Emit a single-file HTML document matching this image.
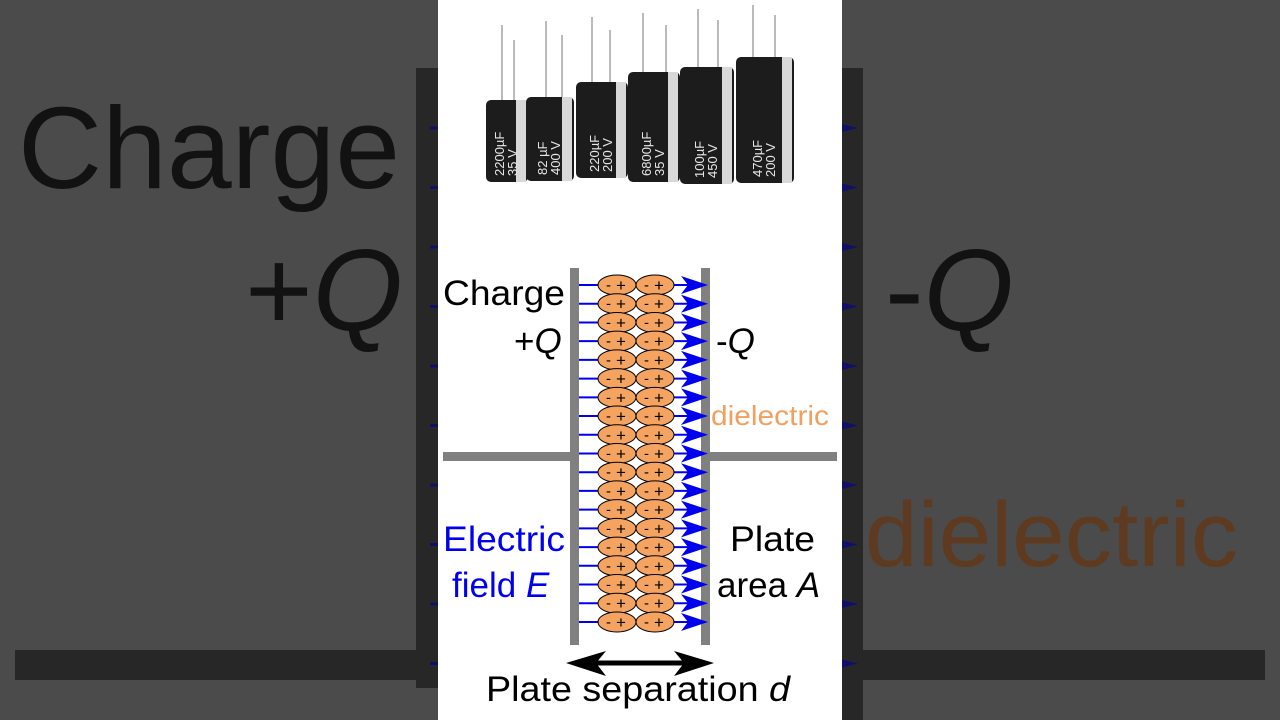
<!DOCTYPE html>
<html><head><meta charset="utf-8"><style>
html,body{margin:0;padding:0;width:1280px;height:720px;overflow:hidden;background:#4b4b4b}
svg{display:block}
text{font-family:"Liberation Sans",sans-serif}
</style></head><body>
<svg id="s" width="1280" height="720" viewBox="0 0 1280 720" xmlns="http://www.w3.org/2000/svg">
<rect width="1280" height="720" fill="#4b4b4b"/>
<text x="18" y="188" font-size="116" fill="#121212" textLength="382" lengthAdjust="spacingAndGlyphs">Charge</text>
<text x="245" y="330" font-size="116" fill="#121212">+<tspan font-style="italic">Q</tspan></text>
<rect x="416" y="68" width="24" height="620" fill="#272727"/>
<rect x="15" y="650" width="425" height="30" fill="#272727"/>
<rect x="840" y="68" width="23" height="652" fill="#272727"/>
<rect x="863" y="650" width="402" height="30" fill="#272727"/>
<text x="885" y="330" font-size="116" fill="#121212">-<tspan font-style="italic">Q</tspan></text>
<text x="865" y="566" font-size="92" fill="#5e3a20" textLength="373" lengthAdjust="spacingAndGlyphs">dielectric</text>
<g id="bgarrows" fill="#10106a"></g>
<rect x="438" y="0" width="404" height="720" fill="#fff"/>
<g id="caps"></g>
<rect x="443" y="452" width="130" height="9" fill="#808080"/>
<rect x="707" y="452" width="130" height="9" fill="#808080"/>
<rect x="570" y="268" width="9" height="377" fill="#808080"/>
<rect x="701" y="268" width="9" height="377" fill="#808080"/>
<g id="rows"></g>
<text x="443" y="305" font-size="35" fill="#000" textLength="122" lengthAdjust="spacingAndGlyphs">Charge</text>
<text x="514" y="353" font-size="35" fill="#000">+<tspan font-style="italic">Q</tspan></text>
<text x="716" y="353" font-size="35" fill="#000">-<tspan font-style="italic">Q</tspan></text>
<text x="711" y="425" font-size="28" fill="#f0a060" textLength="118" lengthAdjust="spacingAndGlyphs">dielectric</text>
<text x="443" y="551" font-size="35" fill="#0000ee" textLength="122" lengthAdjust="spacingAndGlyphs">Electric</text>
<text x="452" y="597" font-size="35" fill="#0000ee">field <tspan font-style="italic">E</tspan></text>
<text x="730" y="551" font-size="35" fill="#000" textLength="85" lengthAdjust="spacingAndGlyphs">Plate</text>
<text x="717" y="597" font-size="35" fill="#000">area <tspan font-style="italic">A</tspan></text>
<line x1="585" y1="663" x2="695" y2="663" stroke="#000" stroke-width="5"/>
<polygon points="566,663 606,651 596,663 606,676" fill="#000"/>
<polygon points="714,663 674,651 684,663 674,676" fill="#000"/>
<text x="486" y="701" font-size="35" fill="#000" textLength="304" lengthAdjust="spacingAndGlyphs">Plate separation <tspan font-style="italic">d</tspan></text>
</svg>
<script>
var NS="http://www.w3.org/2000/svg";
function el(p,t,a,txt){var e=document.createElementNS(NS,t);for(var k in a)e.setAttribute(k,a[k]);if(txt)e.textContent=txt;p.appendChild(e);return e;}
var rows=document.getElementById("rows");
for(var i=0;i<19;i++){
 var y=285+i*18.72;
 el(rows,"line",{x1:579,y1:y,x2:690,y2:y,stroke:"#0000ee","stroke-width":2});
 el(rows,"polygon",{points:"681,"+(y-9)+" 708,"+y+" 681,"+(y+9)+" 688,"+y,fill:"#0000ee"});
 [617,655].forEach(function(cx){
  el(rows,"ellipse",{cx:cx,cy:y,rx:19,ry:10,fill:"#f4a460",stroke:"#000","stroke-width":1});
  el(rows,"text",{x:cx-11,y:y+5,"font-size":15,fill:"#000"},"-");
  el(rows,"text",{x:cx-1,y:y+6,"font-size":17,fill:"#000"},"+");
 });
}
var ba=document.getElementById("bgarrows");
for(var j=0;j<10;j++){var yy=128+j*59.5;
 el(ba,"polygon",{points:"842,"+(yy-4)+" 858,"+yy+" 842,"+(yy+4)});
 el(ba,"rect",{x:430,y:yy-1.5,width:8,height:3});}
var caps=document.getElementById("caps");
var C=[[486,100,42,82,[502,514]],[526,97,48,84,[546,562]],[576,82,52,96,[592,610]],[628,72,52,110,[643,666]],[680,67,54,117,[698,718]],[736,57,58,126,[753,775]]];
var L=[["2200µF","35 V"],["82 µF","400 V"],["220µF","200 V"],["6800µF","35 V"],["100µF","450 V"],["470µF","200 V"]];
C.forEach(function(c,i){
 el(caps,"line",{x1:c[4][0],y1:25-i*4,x2:c[4][0],y2:c[1],stroke:"#bbb","stroke-width":2});
 el(caps,"line",{x1:c[4][1],y1:40-i*5,x2:c[4][1],y2:c[1],stroke:"#bbb","stroke-width":2});
 el(caps,"rect",{x:c[0],y:c[1],width:c[2],height:c[3],rx:5,fill:"#1c1c1c"});
 el(caps,"rect",{x:c[0]+c[2]-12,y:c[1],width:10,height:c[3],fill:"#d8d8d8"});
 el(caps,"text",{x:0,y:0,"font-size":13,fill:"#e8e8e8",transform:"translate("+(c[0]+c[2]/2-3)+","+(c[1]+c[3]-6)+") rotate(-90)"},L[i][0]);
 el(caps,"text",{x:0,y:0,"font-size":13,fill:"#e8e8e8",transform:"translate("+(c[0]+c[2]/2+10)+","+(c[1]+c[3]-6)+") rotate(-90)"},L[i][1]);
});
</script>
</body></html>
